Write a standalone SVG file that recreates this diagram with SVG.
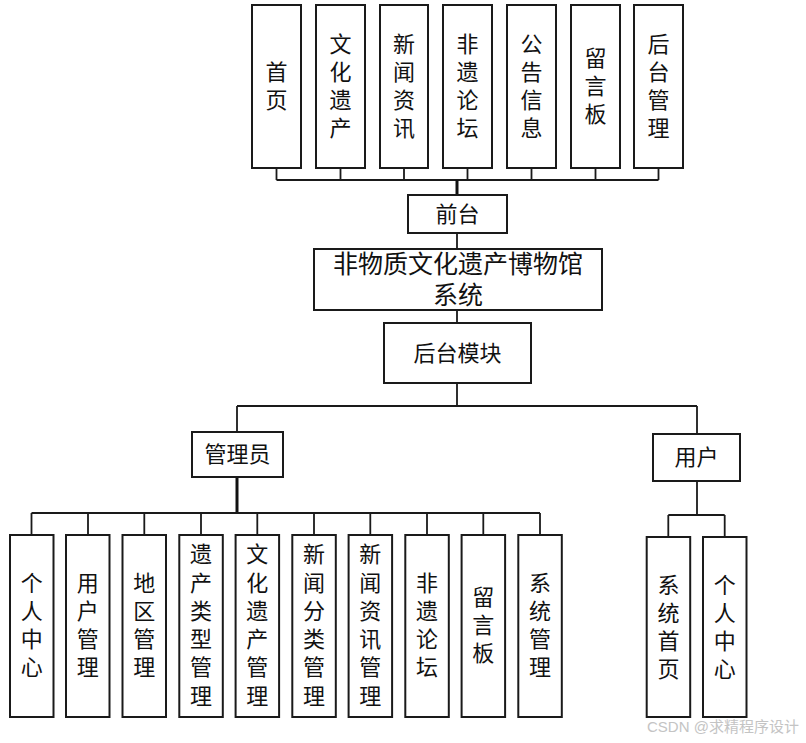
<svg xmlns="http://www.w3.org/2000/svg" width="806" height="743" viewBox="0 0 806 743">
<style>
.box{fill:#fff;stroke:#1a1a1a;stroke-width:2}
.t{font-family:"Liberation Sans","Noto Sans CJK SC",sans-serif;font-size:22px;fill:#111;text-anchor:middle;dominant-baseline:central}
.big{font-size:25px}
.ln{fill:none;stroke:#1a1a1a;stroke-width:1.8}
.thick{fill:none;stroke:#111;stroke-width:3}
.wm{font-family:"Liberation Sans","Noto Sans CJK SC",sans-serif;font-size:15px;fill:#c4c4c4}
</style>
<rect width="806" height="743" fill="#fff"/>
<g id="connectors">
<path class="ln" d="M276.5 168V180M340.5 168V180M404 168V180M467.5 168V180M531.5 168V180M595.5 168V180M658.5 168V180M276.5 180H658.5"/>
<path class="thick" d="M457 180V195"/>
<path class="ln" d="M457 233V249M457 310V323M457 383V406M237 406H697M237 406V432M697 406V434"/>
<path class="thick" d="M237 477V513"/>
<path class="ln" d="M31.5 513H540M31.5 513V535M88 513V535M144.3 513V535M201 513V535M257.3 513V535M314 513V535M370.3 513V535M427 513V535M483.3 513V535M540 513V535"/>
<path class="ln" d="M697 481V515M668.3 515H724.7M668.3 515V537M724.7 515V537"/>
</g>
<g id="n-home"><rect class="box" x="252" y="5" width="49" height="163"/><text class="t"><tspan x="276.5" y="71.85">首</tspan><tspan x="276.5" dy="28.3">页</tspan></text></g>
<g id="n-heritage"><rect class="box" x="316" y="5" width="49" height="163"/><text class="t"><tspan x="340.5" y="43.5">文</tspan><tspan x="340.5" dy="28.3">化</tspan><tspan x="340.5" dy="28.3">遗</tspan><tspan x="340.5" dy="28.3">产</tspan></text></g>
<g id="n-news"><rect class="box" x="380" y="5" width="48" height="163"/><text class="t"><tspan x="404" y="43.5">新</tspan><tspan x="404" dy="28.3">闻</tspan><tspan x="404" dy="28.3">资</tspan><tspan x="404" dy="28.3">讯</tspan></text></g>
<g id="n-forum"><rect class="box" x="443" y="5" width="49" height="163"/><text class="t"><tspan x="467.5" y="43.5">非</tspan><tspan x="467.5" dy="28.3">遗</tspan><tspan x="467.5" dy="28.3">论</tspan><tspan x="467.5" dy="28.3">坛</tspan></text></g>
<g id="n-notice"><rect class="box" x="507" y="5" width="49" height="163"/><text class="t"><tspan x="531.5" y="43.5">公</tspan><tspan x="531.5" dy="28.3">告</tspan><tspan x="531.5" dy="28.3">信</tspan><tspan x="531.5" dy="28.3">息</tspan></text></g>
<g id="n-board"><rect class="box" x="571" y="5" width="49" height="163"/><text class="t"><tspan x="595.5" y="57.7">留</tspan><tspan x="595.5" dy="28.3">言</tspan><tspan x="595.5" dy="28.3">板</tspan></text></g>
<g id="n-admin-link"><rect class="box" x="634" y="5" width="49" height="163"/><text class="t"><tspan x="658.5" y="43.5">后</tspan><tspan x="658.5" dy="28.3">台</tspan><tspan x="658.5" dy="28.3">管</tspan><tspan x="658.5" dy="28.3">理</tspan></text></g>
<g id="n-front"><rect class="box" x="408" y="195" width="99" height="38"/><text class="t" x="457.5" y="214.5">前台</text></g>
<g id="n-system"><rect class="box" x="314" y="249" width="288" height="61"/><text class="t big" x="458" y="264">非物质文化遗产博物馆</text><text class="t big" x="458" y="295">系统</text></g>
<g id="n-backend"><rect class="box" x="384" y="323" width="147" height="60"/><text class="t" x="457.5" y="353">后台模块</text></g>
<g id="n-admin"><rect class="box" x="192" y="432" width="91" height="45"/><text class="t" x="237.5" y="454">管理员</text></g>
<g id="n-user"><rect class="box" x="653" y="434" width="87" height="47"/><text class="t" x="696.5" y="457">用户</text></g>
<g id="a-personal"><rect class="box" x="10" y="535" width="43.5" height="182"/><text class="t"><tspan x="31.75" y="582.5">个</tspan><tspan x="31.75" dy="28.3">人</tspan><tspan x="31.75" dy="28.3">中</tspan><tspan x="31.75" dy="28.3">心</tspan></text></g>
<g id="a-users"><rect class="box" x="66" y="535" width="43.5" height="182"/><text class="t"><tspan x="87.75" y="582.5">用</tspan><tspan x="87.75" dy="28.3">户</tspan><tspan x="87.75" dy="28.3">管</tspan><tspan x="87.75" dy="28.3">理</tspan></text></g>
<g id="a-region"><rect class="box" x="122.5" y="535" width="43.5" height="182"/><text class="t"><tspan x="144.25" y="582.5">地</tspan><tspan x="144.25" dy="28.3">区</tspan><tspan x="144.25" dy="28.3">管</tspan><tspan x="144.25" dy="28.3">理</tspan></text></g>
<g id="a-type"><rect class="box" x="179.3" y="535" width="43.5" height="182"/><text class="t"><tspan x="201" y="554.2">遗</tspan><tspan x="201" dy="28.3">产</tspan><tspan x="201" dy="28.3">类</tspan><tspan x="201" dy="28.3">型</tspan><tspan x="201" dy="28.3">管</tspan><tspan x="201" dy="28.3">理</tspan></text></g>
<g id="a-heritage"><rect class="box" x="235.6" y="535" width="43.5" height="182"/><text class="t"><tspan x="257.3" y="554.2">文</tspan><tspan x="257.3" dy="28.3">化</tspan><tspan x="257.3" dy="28.3">遗</tspan><tspan x="257.3" dy="28.3">产</tspan><tspan x="257.3" dy="28.3">管</tspan><tspan x="257.3" dy="28.3">理</tspan></text></g>
<g id="a-newscat"><rect class="box" x="292.3" y="535" width="43.5" height="182"/><text class="t"><tspan x="314" y="554.2">新</tspan><tspan x="314" dy="28.3">闻</tspan><tspan x="314" dy="28.3">分</tspan><tspan x="314" dy="28.3">类</tspan><tspan x="314" dy="28.3">管</tspan><tspan x="314" dy="28.3">理</tspan></text></g>
<g id="a-news"><rect class="box" x="348.6" y="535" width="43.5" height="182"/><text class="t"><tspan x="370.3" y="554.2">新</tspan><tspan x="370.3" dy="28.3">闻</tspan><tspan x="370.3" dy="28.3">资</tspan><tspan x="370.3" dy="28.3">讯</tspan><tspan x="370.3" dy="28.3">管</tspan><tspan x="370.3" dy="28.3">理</tspan></text></g>
<g id="a-forum"><rect class="box" x="405.3" y="535" width="43.5" height="182"/><text class="t"><tspan x="427" y="582.5">非</tspan><tspan x="427" dy="28.3">遗</tspan><tspan x="427" dy="28.3">论</tspan><tspan x="427" dy="28.3">坛</tspan></text></g>
<g id="a-board"><rect class="box" x="461.6" y="535" width="43.5" height="182"/><text class="t"><tspan x="483.3" y="596.7">留</tspan><tspan x="483.3" dy="28.3">言</tspan><tspan x="483.3" dy="28.3">板</tspan></text></g>
<g id="a-system"><rect class="box" x="518.3" y="535" width="43.5" height="182"/><text class="t"><tspan x="540" y="582.5">系</tspan><tspan x="540" dy="28.3">统</tspan><tspan x="540" dy="28.3">管</tspan><tspan x="540" dy="28.3">理</tspan></text></g>
<g id="u-home"><rect class="box" x="646.7" y="537" width="43.5" height="180"/><text class="t"><tspan x="668.4" y="584.5">系</tspan><tspan x="668.4" dy="28.3">统</tspan><tspan x="668.4" dy="28.3">首</tspan><tspan x="668.4" dy="28.3">页</tspan></text></g>
<g id="u-personal"><rect class="box" x="703" y="537" width="43.5" height="180"/><text class="t"><tspan x="724.7" y="584.5">个</tspan><tspan x="724.7" dy="28.3">人</tspan><tspan x="724.7" dy="28.3">中</tspan><tspan x="724.7" dy="28.3">心</tspan></text></g>
<text class="wm" x="647" y="732">CSDN @求精程序设计</text>
</svg>
